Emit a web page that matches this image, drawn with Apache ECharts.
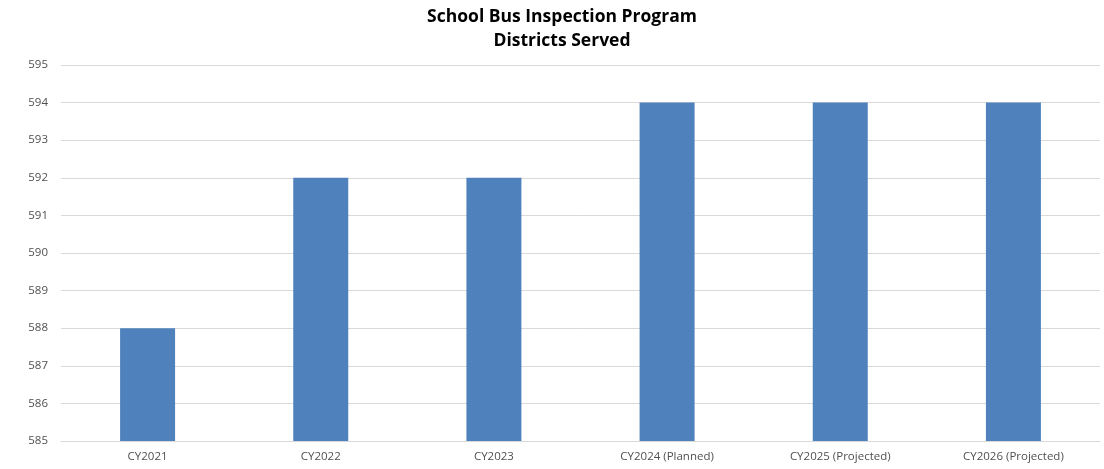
<!DOCTYPE html>
<html>
<head>
<meta charset="utf-8">
<script src="https://cdn.jsdelivr.net/npm/echarts@6/dist/echarts.min.js"></script>
<style>
  html, body { margin: 0; padding: 0; background: #ffffff; }
  #chart { width: 1104px; height: 469px; }
</style>
</head>
<body>
<div id="chart"></div>
<script>
// Districts served by the school bus inspection program, per calendar year
const categories = ['CY2021', 'CY2022', 'CY2023', 'CY2024 (Planned)', 'CY2025 (Projected)', 'CY2026 (Projected)'];
const districts = [588, 592, 592, 594, 594, 594];
const yTicks = { min: 585, max: 595, interval: 1 };

const chart = echarts.init(document.getElementById('chart'), null, { renderer: 'canvas' });
chart.setOption({
  animation: false,
  backgroundColor: '#ffffff',
  title: {
    text: 'School Bus Inspection Program\nDistricts Served',
    left: 557,
    textAlign: 'center',
    top: 0,
    textStyle: {
      fontFamily: 'Open Sans',
      fontWeight: 'bold',
      fontSize: 17.5,
      lineHeight: 24,
      color: '#000000'
    }
  },
  grid: { left: 61, right: 4, top: 65, bottom: 28, containLabel: false },
  xAxis: {
    type: 'category',
    data: categories,
    axisLine: { show: true, lineStyle: { color: '#d9d9d9', width: 1 } },
    axisTick: { show: false },
    axisLabel: { fontFamily: 'Open Sans', fontSize: 11.5, color: '#505050', margin: 10 }
  },
  yAxis: {
    type: 'value',
    min: yTicks.min,
    max: yTicks.max,
    interval: yTicks.interval,
    axisLine: { show: false },
    axisTick: { show: false },
    axisLabel: { fontFamily: 'Open Sans', fontSize: 11.5, color: '#505050', margin: 13 },
    splitLine: { lineStyle: { color: '#d9d9d9', width: 1 } }
  },
  series: [{
    type: 'bar',
    data: districts,
    barWidth: 55,
    itemStyle: { color: '#4f81bd' }
  }]
});
</script>
</body>
</html>
